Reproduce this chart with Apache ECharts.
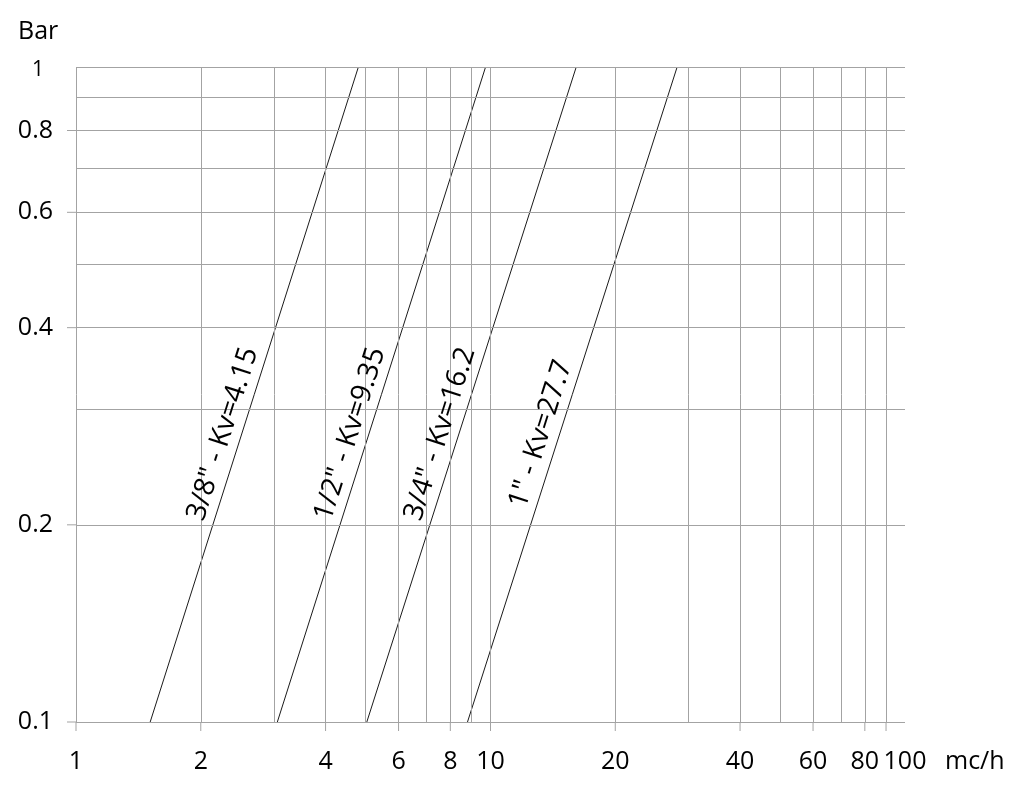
<!DOCTYPE html>
<html>
<head>
<meta charset="utf-8">
<script src="https://cdn.jsdelivr.net/npm/echarts@6/dist/echarts.min.js"></script>
<style>html,body{margin:0;padding:0;background:#fff}#chart{width:1024px;height:793px}</style>
</head>
<body>
<div id="chart"></div>
<script>
// ---- data ----
const seriesNames = ['3/8" - Kv=4.15', '1/2" - Kv=9.35', '3/4" - Kv=16.2', '1" - Kv=27.7'];
const pressureEnds = [0.1, 1];                    // Bar at the two ends of every line
const flowAtLowPressure = [1.51, 3.06, 5.03, 8.8]; // mc/h at 0.1 bar
const flowAtHighPressure = [4.8, 9.73, 16.1, 28.2]; // mc/h at 1 bar
const xGridValues = [1, 2, 3, 4, 5, 6, 7, 8, 9, 10, 20, 30, 40, 50, 60, 70, 80, 90];
const yGridValues = [0.1, 0.2, 0.3, 0.4, 0.5, 0.6, 0.7, 0.8, 0.9, 1];
const xTickValues = [1, 2, 4, 6, 8, 10, 20, 40, 60, 80, 90];
const xTickLabels = [1, 2, 4, 6, 8, 10, 20, 40, 60, 80, 100];
const yTickValues = [0.1, 0.2, 0.4, 0.6, 0.8];
const yTickLabels = [0.1, 0.2, 0.4, 0.6, 0.8, 1];
const xRange = [1, 100];
const yRange = [0.1, 1];

// ---- styling ----
const FONT = 'Open Sans';
const TEXT = '#000';
const GRID = '#a3a3a3';
const LABEL_AT = 0.27; // pressure where the line captions sit

const series = seriesNames.map((name, i) => {
  const q0 = flowAtLowPressure[i], q1 = flowAtHighPressure[i];
  const t = Math.log10(LABEL_AT / pressureEnds[0]) / Math.log10(pressureEnds[1] / pressureEnds[0]);
  const qLabel = q0 * Math.pow(q1 / q0, t);
  return {
    type: 'line', name: name, showSymbol: false, silent: true, animation: false, z: 3,
    data: [[q0, pressureEnds[0]], [q1, pressureEnds[1]]],
    lineStyle: { color: '#1a1a1a', width: 1 },
    markPoint: {
      silent: true, animation: false,
      symbol: 'circle', symbolSize: 0,
      itemStyle: { color: 'transparent' },
      data: [{ coord: [qLabel, LABEL_AT] }],
      label: {
        show: true, position: 'inside', formatter: name, rotate: 72.4, offset: [0, -18],
        fontFamily: FONT, fontSize: 28, color: TEXT
      }
    }
  };
});

const labelStyle = { fontFamily: FONT, fontSize: 25, color: TEXT };

series.push({
  type: 'line', name: 'grid', data: [], silent: true, animation: false, z: 1,
  markLine: {
    silent: true, animation: false, symbol: ['none', 'none'],
    label: { show: false },
    emphasis: { disabled: true },
    lineStyle: { color: GRID, width: 1, type: 'solid' },
    data: [
      ...xGridValues.map(v => ({ xAxis: v })),
      ...yGridValues.map(v => ({ yAxis: v }))
    ]
  },
  markPoint: {
    silent: true, animation: false,
    data: [
      ...xTickValues.map(v => ({
        coord: [v, yRange[0]], symbol: 'rect', symbolSize: [1, 9], symbolOffset: [0, 4.5],
        itemStyle: { color: GRID }, label: { show: false }
      })),
      ...yTickValues.map(v => ({
        coord: [xRange[0], v], symbol: 'rect', symbolSize: [9, 1], symbolOffset: [-4.5, 0],
        itemStyle: { color: GRID }, label: { show: false }
      })),
      ...xTickLabels.map(v => ({
        coord: [v, yRange[0]], symbol: 'circle', symbolSize: 0, itemStyle: { color: 'transparent' },
        label: Object.assign({ show: true, position: 'bottom', distance: 27, formatter: String(v) }, labelStyle)
      })),
      ...yTickLabels.map(v => ({
        coord: [xRange[0], v], symbol: 'circle', symbolSize: 0, itemStyle: { color: 'transparent' },
        label: Object.assign({ show: true, position: 'left', distance: v === 1 ? 32 : 23, formatter: String(v) },
          labelStyle, v === 1 ? { fontSize: 21, offset: [0, 3] } : {})
      }))
    ]
  }
});

const chart = echarts.init(document.getElementById('chart'), null, { renderer: 'canvas' });
chart.setOption({
  animation: false,
  backgroundColor: '#fff',
  title: [
    { text: 'Bar', left: 18, top: 19, padding: 0, textStyle: { fontFamily: FONT, fontSize: 25, fontWeight: 'normal', color: TEXT } },
    { text: 'mc/h', left: 945, top: 749, padding: 0, textStyle: { fontFamily: FONT, fontSize: 25, fontWeight: 'normal', color: TEXT } }
  ],
  grid: { left: 76, right: 119, top: 67, bottom: 71, containLabel: false, outerBoundsMode: 'none' },
  xAxis: {
    type: 'log', logBase: 10, min: xRange[0], max: xRange[1],
    axisLine: { show: false }, axisTick: { show: false }, axisLabel: { show: false },
    splitLine: { show: false }, minorTick: { show: false }, minorSplitLine: { show: false }
  },
  yAxis: {
    type: 'log', logBase: 10, min: yRange[0], max: yRange[1],
    axisLine: { show: false }, axisTick: { show: false }, axisLabel: { show: false },
    splitLine: { show: false }, minorTick: { show: false }, minorSplitLine: { show: false }
  },
  tooltip: { show: false },
  series: series
});
</script>
</body>
</html>
